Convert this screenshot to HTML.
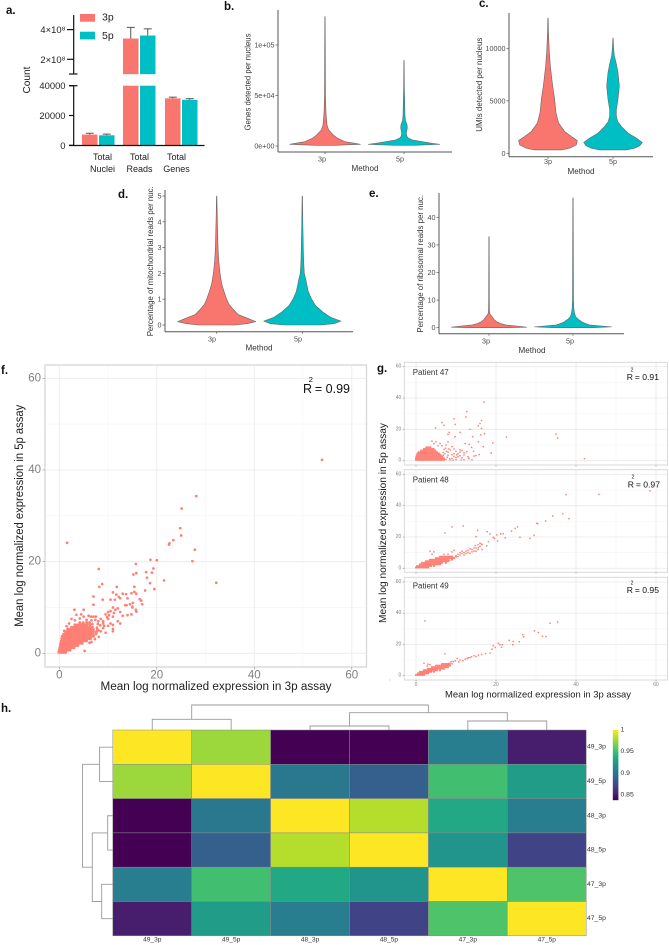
<!DOCTYPE html>
<html lang="en">
<head>
<meta charset="utf-8">
<title>Comparison of 3p and 5p single-nucleus assays</title>
<style>
html,body{margin:0;padding:0;background:#fff;}
svg{display:block;font-family:"Liberation Sans",sans-serif;filter:blur(.35px);}
.plabel{font-weight:bold;font-size:11.5px;fill:#111;dominant-baseline:central;}
</style>
</head>
<body>
<svg id="fig" xmlns="http://www.w3.org/2000/svg" width="669" height="945" viewBox="0 0 669 945">
  <defs>
    <linearGradient id="viridis-grad" x1="0" y1="1" x2="0" y2="0">
      <stop offset="0" stop-color="#440154"/><stop offset=".1" stop-color="#482475"/>
      <stop offset=".2" stop-color="#414487"/><stop offset=".3" stop-color="#355F8D"/>
      <stop offset=".4" stop-color="#2A788E"/><stop offset=".5" stop-color="#21908D"/>
      <stop offset=".6" stop-color="#22A884"/><stop offset=".7" stop-color="#43BF71"/>
      <stop offset=".8" stop-color="#7AD151"/><stop offset=".9" stop-color="#BCDF27"/>
      <stop offset="1" stop-color="#FDE725"/>
    </linearGradient>
  </defs>
  <text class="plabel" x="6" y="11">a.</text>
  <text class="plabel" x="224" y="7">b.</text>
  <text class="plabel" x="479" y="4">c.</text>
  <text class="plabel" x="118" y="195">d.</text>
  <text class="plabel" x="369" y="194">e.</text>
  <text class="plabel" x="1" y="371">f.</text>
  <text class="plabel" x="377" y="369">g.</text>
  <text class="plabel" x="1" y="709">h.</text>
</svg>
<script>
/* ---------- panel a data ---------- */
const barCategories = [["Total","Nuclei"],["Total","Reads"],["Total","Genes"]];
const barValues3p = [7200, 340000000, 31500];
const barValues5p = [6700, 360000000, 30500];
const barErrorTop3p = [8100, 415000000, 32300];
const barErrorTop5p = [7500, 405000000, 31300];
const barLowerTicks = [0, 20000, 40000];
const barUpperTicks = [200000000, 400000000];
const barUpperTickLabels = ["2×10⁸", "4×10⁸"];

/* ---------- violin data ---------- */
const bValues3p = [660,1650,2650,4300,7600,10900,15900,20850,32400,49000,128000];
const bDensity3p = [30,106,90,60,38,25,11,6,3,1.5,.5];
const bValues5p = [660,1650,2650,4300,6000,8000,10000,13000,18000,21000,25000,30000,45000,60000,84700];
const bDensity5p = [30,107,85,55,25,12,8,7,10,9,4.5,3,2,1,.5];
const bTicks = [0,50000,100000];
const bTickLabels = ["0e+00","5e+04","1e+05"];

const cValues3p = [320,480,800,1220,1600,2080,2880,3850,5130,6400,8330,9900,11500,12880];
const cDensity3p = [40,65,85,88,70,50,32,24,20,14,7,3.5,1.5,.5];
const cValues5p = [320,480,705,1025,1440,1920,2560,3040,3525,4170,5130,6410,7690,8650,9300,9935,10960];
const cDensity5p = [40,65,80,88,70,45,25,14,10,10,15,19,15,9,4,2,.5];
const cTicks = [0,5000,10000];
const cTickLabels = ["0","5000","10000"];

const dValues3p = [0,.05,.13,.25,.4,.6,.8,1,1.3,1.6,2,2.5,3,4,5];
const dDensity3p = [55,90,117,95,65,50,37,30,22,15,10,6,4,2,.5];
const dValues5p = [0,.05,.15,.3,.5,.75,1,1.3,1.6,1.8,2,2.5,3,4,5];
const dDensity5p = [55,95,116,85,62,40,28,18,13,10,6,4,3,1.5,.5];
const dTicks = [0,1,2,3,4,5];
const dTickLabels = ["0","1","2","3","4","5"];

const eValues3p = [0,.2,.5,1,1.5,2,3,4,5,6,10,33];
const eDensity3p = [60,113,90,50,35,25,15,9,3,1.5,1,.5];
const eValues5p = [0,.3,.6,1,1.5,2,3,4,5,7,10,47];
const eDensity5p = [60,116,85,50,38,28,16,8,5,2.5,1.5,.5];
const eTicks = [0,10,20,30,40];
const eTickLabels = ["0","10","20","30","40"];

/* ---------- panel f data: [3p, 5p] ---------- */
const fSparse = [[53.9,42.2],[28.1,34.3],[25.1,31.6],[24.8,27.3],[25,25.7],[23.4,24.7],[22.6,24],[22.5,23.7],[27.8,22.6],[27.3,20.1],[32.2,15.4],[1.6,24.1],[18.7,20.4],[20,20.3],[15.7,19.5],[8.1,18.4],[19.3,18.5],[17.8,17.7],[19,17.6],[15.8,17.5],[15.2,17.2],[18,16.5],[21.5,15.9],[18.6,15.3],[8.8,15.1],[8.2,14.5],[11.8,14.5],[15.4,14.5],[19.5,14],[17.6,13.7],
[9,6.5],[9.5,8.5],[10,9],[10.5,9.2],[11,10],[11.5,9.5],[12,9.8],[12.5,9],[13,8.2],[13.5,10.5],[11,8],[10,7.5],[9,7],[8.5,7.5],[8,7],[7.5,8],[7,8],[6.5,8],[6,8.2],[5,8],[4.5,8.5],[3.5,8.4],[3.1,9.5],[2.5,7.5],[2,6.5],[1.8,5.3],[8,5],[8.5,4.8],[9,5.5],[9.5,4.5],[10,6],[10.5,6.5],[11,6.2],[11,4.8],[11,5.3],[12,7],[12.5,6.5],[14,8.3],[15,10],[14.5,10.7],[15.1,11],[14.8,8.5],[15.8,9.1],[15.7,9.5],[12.5,12],[11,13.3],[11.7,12.8],[12.2,12.3],[13,13],[13.7,12.9],[14,12],[15.8,13],[15.4,13.4],[14.8,13.1],[16.5,11.8],[16.8,11.5],[17,10.7],[7,12.4],[7,10.6],[8.9,11.7],[10.5,11.7],[11.4,11.7],[5,9.5],[15,10.2],[13.8,10.5],[5.2,.5],[6.2,2.3],[9.8,7.9],[10.2,8.3],[11.2,8.8],[7.9,6.4],[8.4,6.1],[9.2,6],[7.7,5.6],[7.4,7.3],[6.6,7.2],[3.2,7.2],[4.2,7.6],[5.6,7.3],[6.8,6.4],[7.6,4.4],[8.1,3.6],[7.3,3.1],[6.6,2.5],[1,4.9],[1.5,5.9]];
const fDenseRows = [
[.2,[-.1,.2,.5,.8,1.1,1.3]],
[.7,[0,.4,.8,1.2,1.6,2,2.2]],
[1.2,[.1,.5,.9,1.3,1.7,2.1,2.5,3]],
[1.7,[.2,.6,1,1.4,1.8,2.2,2.6,3,3.4,3.8]],
[2.2,[.3,.7,1.1,1.5,1.9,2.3,2.7,3.1,3.5,3.9,4.3,4.7]],
[2.7,[.4,.8,1.2,1.6,2,2.4,2.8,3.2,3.6,4,4.4,4.8,5.2,5.6]],
[3.2,[.5,.9,1.3,1.7,2.1,2.5,2.9,3.3,3.7,4.1,4.5,4.9,5.3,5.7,6.1,6.4]],
[3.7,[.6,1,1.4,1.8,2.2,2.6,3,3.4,3.8,4.2,4.6,5,5.4,5.8,6.2,6.6,7]],
[4.2,[.9,1.3,1.7,2.1,2.5,2.9,3.3,3.7,4.1,4.5,4.9,5.3,5.7,6.1,6.5,6.9,7.5]],
[4.7,[1.3,1.7,2.1,2.5,2.9,3.3,3.7,4.1,4.5,4.9,5.3,5.7,6.1,6.5,7,7.6]],
[5.2,[1.7,2.1,2.5,2.9,3.3,3.7,4.1,4.5,4.9,5.3,5.7,6.1,6.5,7,7.8]],
[5.7,[2.5,2.9,3.3,3.7,4.1,4.5,4.9,5.3,5.7,6.2,6.8]],
[6.2,[3.2,3.7,4.2,4.7,5.2,5.7,6.3]],
[6.7,[4.2,4.9,5.6,6.2]]];
const fTicks = [0,20,40,60];

/* ---------- panel g data: [3p, 5p] ---------- */
const g47Sparse = [[17,37.4],[12.7,31.3],[12.5,27.9],[16.4,25.7],[9.5,26.8],[6.5,24.3],[7,22.6],[4.9,20.9],[9.8,23.2],[16,23.8],[15.6,22.3],[13.5,20],[16.4,20.6],[8.3,18.1],[8,16.8],[11,18.1],[9.75,15.3],[16.2,16.4],[17.1,17.2],[14.2,15.3],[22.6,15.1],[35,17],[35.4,14.5],[42.1,1.3],[19.2,11.3],[18.8,4.9],[15.8,4],[15.6,12.1],[16.8,8.9],[13.3,10.4],[13.9,8.5],[12.3,11],[12.7,5.7],[13.2,1.5],[12,3.6],[11.5,6.5],[11,7],[10.5,4.5],[10,6],[9.5,7.5],[9,9],[8,12],[7.5,10],[7.4,8],[8,5.5],[8.6,6.8],[9,3.8],[7.8,2.2],[8.4,1.3],[10,2],[11,3.2],[6.5,9.5],[7,7.2],[6,11],[5,12],[4.5,11],[4,12.5],[5.5,9.5],[14.4,6],[15,3.3],
[7.5,.8],[8,3.5],[8.5,.5],[9,1.5],[9.5,4.5],[9.5,2.8],[10,.7],[10.5,2.5],[11,5.5],[11.5,1.8],[12,.6],[12,5],[7.2,4.5],[7.6,6],[8.2,7.5],[9.3,.4],[6.8,3.5],[6.8,5.2],[10.2,3.7],[11.3,.5],[13,2.5],[14,.6],[14.5,3]];
const g47DenseRows = [
[.5,[0,.5,1,1.5,2,2.5,3,3.5,4,4.5,5,5.5,6,6.5,7]],
[1.5,[0,.5,1,1.5,2,2.5,3,3.5,4,4.5,5,5.5,6,6.5,7]],
[2.5,[.1,.6,1.1,1.6,2.1,2.6,3.1,3.6,4.1,4.6,5.1,5.6,6.1,6.6]],
[3.5,[.2,.7,1.2,1.7,2.2,2.7,3.2,3.7,4.2,4.7,5.2,5.7,6.2]],
[4.5,[.4,.9,1.4,1.9,2.4,2.9,3.4,3.9,4.4,4.9,5.4,5.8]],
[5.5,[.7,1.2,1.7,2.2,2.7,3.2,3.7,4.2,4.7,5.2]],
[6.5,[1.3,1.8,2.3,2.8,3.3,3.8,4.3,4.8]],
[7.5,[2,2.5,3,3.5,4,4.4]],
[8.5,[2.6,3.1,3.6]]];
const g48Sparse = [[58.5,49.4],[45.75,47.2],[37.5,47],[36.7,34.7],[38.25,31.7],[34.2,33.4],[32.4,30.2],[30.2,28.7],[30.4,28.5],[25.4,26.4],[24.8,25.5],[23.9,23.8],[29.5,21],[28.5,19.1],[26,19.8],[21.8,22.1],[21.2,21.9],[20.2,21.3],[19.3,19.8],[19.6,19.1],[20.4,17.4],[22.3,19.4],[17.8,23.4],[18.5,22],[15.4,24.3],[11.8,27],[9,26.4],[7.25,22.5],[15,20.2],[17.7,14.3],[18.1,17],[16.4,15.5],
[10,8],[10.5,9],[11,10],[11,8.5],[11.5,9.5],[12,10],[12,8.5],[12.5,11],[13,10],[13,11.5],[13.5,9.5],[14,12],[14,10.5],[14.5,11],[14.5,13],[15,11],[15,13],[15.5,12],[15.5,15],[16,14],[16,16],[16.5,15],[16.5,12],[8,9],[9,10.5],[9.5,11.5],[7,9],[3.5,11],[4,9],[4.5,10.5],[9,6.5],[9.5,7],[10.5,7.5],[11.5,11],[12.5,9.5],[13.5,12.5],[14.8,14.5],[15.6,13.2],[8.4,5]];
const g48DenseRows = [
[.5,[0,.5,1,1.5,2,2.5,3]],
[1.5,[.3,.8,1.3,1.8,2.3,2.8,3.3,3.8,4.5]],
[2.5,[1,1.5,2,2.5,3,3.5,4,4.5,5,5.5,6]],
[3.5,[1.5,2,2.5,3,3.5,4,4.5,5,5.5,6,6.5,7.5]],
[4.5,[2.5,3,3.5,4,4.5,5,5.5,6,6.5,7,7.5,8]],
[5.5,[3.5,4,4.5,5,5.5,6,6.5,7,7.5,8,9]],
[6.5,[5,5.5,6,6.5,7,7.5,8,8.5,9,9.5]],
[7.5,[6,6.5,7,7.5,8,8.5,9,10]]];
const g49Sparse = [[2.25,35.1],[35.4,34.5],[33.5,33.6],[29.6,28.7],[30.6,27.7],[31.6,25.3],[32.5,25.1],[26.7,26.2],[26.9,24.9],[25.8,21.7],[23.3,22.6],[24.3,21.9],[24.2,19.8],[20.6,20.8],[21,19.8],[21.6,19.8],[19.3,19.2],[19.8,18.1],[21.4,18.1],[18.5,14.5],[7.25,14],[16.4,13.6],[15.6,13.2],[13.9,12.1],[13.1,11.5],[12.3,10.6],[11,10],[10.3,11],[9.3,9],[8.5,8],[7.7,7.4],[2,8],[3,7.4],[3.5,7],[14.5,12.8],[15,12.3],[12.8,11],[11.7,9.6],[10.7,8.8],[9.8,9.5],[9,7.6],[8.8,9],[17.4,14.2],[19,17],[2.8,6.2],[13.5,11.6]];
const g49DenseRows = [
[.5,[0,.4,.8,1.2,1.6,2]],
[1.5,[.5,.9,1.3,1.7,2.1,2.5,3]],
[2.5,[1,1.4,1.8,2.2,2.6,3,3.4,3.8,4.5]],
[3.5,[2,2.4,2.8,3.2,3.6,4,4.4,4.8,5.2,6]],
[4.5,[3,3.5,4,4.5,5,5.5,6,6.5,7]],
[5.5,[4,4.5,5,5.5,6,6.5,7,7.5,8]],
[6.5,[5,5.5,6,6.5,7,7.5,8,8.5]],
[7.5,[6.5,7,7.5,8,8.4]]];
const gXTicks = [0,20,40,60];
const gYTicks = [0,20,40,60];

/* ---------- panel h data ---------- */
const heatSamples = ["49_3p","49_5p","48_3p","48_5p","47_3p","47_5p"];
const heatRow4935 = [1,.976,.838,.838,.906,.851];
const heatRow4955 = [.976,1,.903,.887,.951,.927];
const heatRow4835 = [.838,.903,1,.982,.935,.906];
const heatRow4855 = [.838,.887,.982,1,.922,.870];
const heatRow4735 = [.906,.951,.935,.922,1,.955];
const heatRow4755 = [.851,.927,.906,.870,.955,1];
const heatLegendTicks = [1,.95,.9,.85];
const topTreeMerges = [[0,1,0,0,10.7],[2,3,0,0,4],[4,5,0,0,9],[2.5,4.5,4,9,17.3],[.5,3.5,10.7,17.3,25]];
const leftTreeMerges = [[0,1,0,0,13.2],[2,3,0,0,5.1],[4,5,0,0,11.1],[2.5,4.5,5.1,11.1,20.5],[.5,3.5,13.2,20.5,30.3]];

/* ---------- helpers ---------- */
const NS = "http://www.w3.org/2000/svg";
const fig = document.getElementById("fig");
const RED = "#F8766D", TEAL = "#00BFC4";
function linear(d0, d1, r0, r1) { return v => r0 + (v - d0) * (r1 - r0) / (d1 - d0); }
function add(parent, tag, attrs, name) {
  const el = document.createElementNS(NS, tag);
  for (const k in attrs) el.setAttribute(k, attrs[k]);
  
  
  parent.appendChild(el);
  return el;
}
function group(name) { return add(fig, "g", {}, name); }
function line(p, x1, y1, x2, y2, color, w, name) {
  return add(p, "line", {x1, y1, x2, y2, stroke: color, "stroke-width": w}, name);
}
function label(p, s, x, y, size, color, anchor, name, len, rot) {
  const a = {x, y, "font-size": size, fill: color, "text-anchor": anchor, "dominant-baseline": "central"};
  if (len) { a.textLength = len; a.lengthAdjust = "spacingAndGlyphs"; }
  if (rot) a.transform = "rotate(" + rot + " " + x + " " + y + ")";
  const el = add(p, "text", a, name);
  el.textContent = s;
  return el;
}

/* ---------- panel a ---------- */
(function () {
  const g = group("bar-chart-a");
  const yLow = linear(0, 40000, 145.3, 85.7);
  const yUp = linear(200000000, 400000000, 59.3, 29.6);
  const breakBase = 100000000;
  const baseX = [82, 123, 165];
  const bw = 15.5, step = 17;
  function bar(i, val, err, color, dx, key) {
    const x = baseX[i] + dx, cx = x + bw / 2;
    if (val > 40000) {
      add(g, "rect", {x, y: yLow(40000), width: bw, height: yLow(0) - yLow(40000), fill: color}, "bar-lower-" + key);
      add(g, "rect", {x, y: yUp(val), width: bw, height: yUp(breakBase) - yUp(val), fill: color}, "bar-upper-" + key);
      line(g, cx, yUp(val), cx, yUp(err), "#555", 1, "error-bar-" + key);
      line(g, cx - 4, yUp(err), cx + 4, yUp(err), "#555", 1, "error-cap-" + key);
    } else {
      add(g, "rect", {x, y: yLow(val), width: bw, height: yLow(0) - yLow(val), fill: color}, "bar-" + key);
      line(g, cx, yLow(val), cx, yLow(err), "#555", 1, "error-bar-" + key);
      line(g, cx - 4, yLow(err), cx + 4, yLow(err), "#555", 1, "error-cap-" + key);
    }
  }
  barCategories.forEach((c, i) => {
    bar(i, barValues3p[i], barErrorTop3p[i], RED, 0, "3p-" + i);
    bar(i, barValues5p[i], barErrorTop5p[i], TEAL, step, "5p-" + i);
    const cx = baseX[i] + bw + 1 + [4, 0, -5][i] * 1;
    label(g, c[0], cx, 157, 9, "#222", "middle", "category-label-top");
    label(g, c[1], cx, 169, 9, "#222", "middle", "category-label-bottom");
  });
  line(g, 73.7, 15, 73.7, 74, "#111", 1.2, "y-axis-upper");
  line(g, 73.7, 85.7, 73.7, 145.3, "#111", 1.2, "y-axis-lower");
  line(g, 69, 74, 77.5, 74, "#111", 1.2, "axis-break-upper");
  line(g, 69, 85.7, 77.5, 85.7, "#111", 1.2, "axis-break-lower");
  line(g, 69, 145.5, 204.5, 145.5, "#111", 1.2, "x-axis");
  barLowerTicks.forEach(t => {
    line(g, 69, yLow(t), 73.7, yLow(t), "#111", 1.2, "y-tick");
    label(g, String(t), 65.5, yLow(t), 9.4, "#222", "end", "y-tick-label");
  });
  barUpperTicks.forEach((t, i) => {
    line(g, 67, yUp(t), 73.7, yUp(t), "#111", 1.2, "y-tick");
    label(g, barUpperTickLabels[i], 65.5, yUp(t), 9.4, "#222", "end", "y-tick-label");
  });
  label(g, "Count", 27, 80, 10.5, "#222", "middle", "y-axis-title", 27, -90);
  add(g, "rect", {x: 80, y: 14, width: 15, height: 7.7, fill: RED}, "legend-swatch-3p");
  add(g, "rect", {x: 80, y: 31.7, width: 15, height: 7.7, fill: TEAL}, "legend-swatch-5p");
  label(g, "3p", 102, 17.7, 10.5, "#222", "start", "legend-label-3p");
  label(g, "5p", 102, 36, 10.5, "#222", "start", "legend-label-5p");
})();

/* ---------- violin panels ---------- */
function violinPanel(name, o) {
  const g = group(name);
  const y = linear(o.d0, o.d1, o.r0, o.r1);
  function violin(vals, dens, cx, color, key) {
    const right = vals.map((v, i) => (cx + dens[i] / 3) + "," + y(v));
    const left = vals.map((v, i) => (cx - dens[i] / 3) + "," + y(v)).reverse();
    add(g, "polygon", {points: right.concat(left).join(" "), fill: color, stroke: "#666", "stroke-width": .6, "stroke-linejoin": "round"}, "violin-" + key);
  }
  violin(o.v3, o.w3, o.c3, RED, "3p");
  violin(o.v5, o.w5, o.c5, TEAL, "5p");
  line(g, o.ax, o.top, o.ax, o.bottom, "#555", 1, "y-axis");
  line(g, o.ax, o.bottom, o.right, o.bottom, "#555", 1, "x-axis");
  o.ticks.forEach((t, i) => {
    line(g, o.ax - 2.5, y(t), o.ax, y(t), "#555", .7, "y-tick");
    label(g, o.tickLabels[i], o.ax - 3.5, y(t), 7.2, "#4d4d4d", "end", "y-tick-label");
  });
  line(g, o.c3, o.bottom, o.c3, o.bottom + 2, "#555", .7, "x-tick");
  line(g, o.c5, o.bottom, o.c5, o.bottom + 2, "#555", .7, "x-tick");
  label(g, "3p", o.l3, o.labelY, 7.2, "#4d4d4d", "middle", "x-tick-label-3p");
  label(g, "5p", o.l5, o.labelY, 7.2, "#4d4d4d", "middle", "x-tick-label-5p");
  label(g, "Method", o.mx, o.my, 8.3, "#333", "middle", "x-axis-title", 27);
  label(g, o.title, o.tx, o.ty, 8, "#333", "middle", "y-axis-title", o.tlen, -90);
}
violinPanel("violin-chart-b", {d0: 0, d1: 100000, r0: 146, r1: 45, ax: 278, top: 10, bottom: 152, right: 452, c3: 325, c5: 404, l3: 322, l5: 400, labelY: 159, mx: 365, my: 168, tx: 248, ty: 82, tlen: 97, title: "Genes detected per nucleus", v3: bValues3p, w3: bDensity3p, v5: bValues5p, w5: bDensity5p, ticks: bTicks, tickLabels: bTickLabels});
violinPanel("violin-chart-c", {d0: 0, d1: 10000, r0: 153.3, r1: 48.3, ax: 509, top: 13, bottom: 156.7, right: 653, c3: 548, c5: 613, l3: 548, l5: 613, labelY: 161.7, mx: 581, my: 171, tx: 479.3, ty: 84.7, tlen: 94, title: "UMIs detected per nucleus", v3: cValues3p, w3: cDensity3p, v5: cValues5p, w5: cDensity5p, ticks: cTicks, tickLabels: cTickLabels});
violinPanel("violin-chart-d", {d0: 0, d1: 5, r0: 325, r1: 196, ax: 165, top: 190, bottom: 331.7, right: 353, c3: 216.7, c5: 302.3, l3: 212, l5: 298, labelY: 339, mx: 259, my: 347.7, tx: 150.7, ty: 261.3, tlen: 150, title: "Percentage of mitochondrial reads per nuc.", v3: dValues3p, w3: dDensity3p, v5: dValues5p, w5: dDensity5p, ticks: dTicks, tickLabels: dTickLabels});
violinPanel("violin-chart-e", {d0: 0, d1: 40, r0: 327.7, r1: 217.3, ax: 439, top: 193, bottom: 333.7, right: 624, c3: 489, c5: 573, l3: 486, l5: 570, labelY: 341, mx: 532, my: 350, tx: 420.7, ty: 263.8, tlen: 137.7, title: "Percentage of ribosomal reads per nuc.", v3: eValues3p, w3: eDensity3p, v5: eValues5p, w5: eDensity5p, ticks: eTicks, tickLabels: eTickLabels});

/* ---------- scatter panels ---------- */
function scatterPanel(name, o) {
  const g = group(name);
  const xs = linear(0, 60, o.x0, o.x60), ys = linear(0, 60, o.y0, o.y60);
  add(g, "rect", {x: o.l, y: o.t, width: o.r - o.l, height: o.b - o.t, fill: "#fff"}, "plot-background");
  o.minor.forEach(v => {
    line(g, xs(v), o.t, xs(v), o.b, "#f6f6f6", .7, "grid-minor-x");
    line(g, o.l, ys(v), o.r, ys(v), "#f6f6f6", .7, "grid-minor-y");
  });
  o.xticks.forEach(v => line(g, xs(v), o.t, xs(v), o.b, "#ececec", .9, "grid-major-x"));
  o.yticks.forEach(v => line(g, o.l, ys(v), o.r, ys(v), "#ececec", .9, "grid-major-y"));
  o.rows.forEach(row => row[1].forEach(px => {
    add(g, "circle", {cx: xs(px), cy: ys(row[0]), r: o.dr, fill: "#FF7F75"}, "gene-point-dense");
  }));
  o.sparse.forEach(p => {
    add(g, "circle", {cx: xs(p[0]), cy: ys(p[1]), r: o.pr, fill: "#FF7F75"}, "gene-point");
  });
  add(g, "rect", {x: o.l, y: o.t, width: o.r - o.l, height: o.b - o.t, fill: "none", stroke: "#d9d9d9", "stroke-width": o.fw}, "plot-frame");
  o.yticks.forEach(v => {
    line(g, o.l - o.ts, ys(v), o.l, ys(v), "#888", .6, "y-tick");
    label(g, String(v), o.l - o.ts - 1.5, ys(v), o.yfs, "#808080", "end", "y-tick-label");
  });
  o.xticks.forEach(v => {
    line(g, xs(v), o.b, xs(v), o.b + o.ts, "#888", .6, "x-tick");
    if (o.showX) label(g, String(v), xs(v), o.xly, o.yfs, "#808080", "middle", "x-tick-label");
  });
  if (o.patient) label(g, o.patient, o.l + 8.4, o.py, 8, "#333", "start", "patient-label");
  label(g, "R", o.rx, o.ry, o.rfs, "#111", "start", "r-squared-r");
  label(g, "2", o.rx + o.rfs * .62, o.ry - o.rfs * .78, o.rfs * .62, "#111", "middle", "r-squared-exponent");
  label(g, "= " + o.rv, o.rx + o.rfs * .95, o.ry, o.rfs, "#111", "start", "r-squared-value");
}
scatterPanel("scatter-all-f", {l: 45, t: 365, r: 366.5, b: 667, x0: 59.3, x60: 351.8, y0: 653.3, y60: 378.3, xticks: fTicks, yticks: fTicks, minor: [10,30,50], rows: fDenseRows, sparse: fSparse, pr: 1.35, dr: 1.45, fw: 1.4, ts: 2.5, yfs: 11.5, showX: true, xly: 675.5, rx: 303, ry: 389, rfs: 12.5, rv: "0.99"});
scatterPanel("scatter-patient-47", {l: 404.3, t: 362.3, r: 667.5, b: 465, x0: 416, x60: 656, y0: 460.7, y60: 366.7, xticks: gXTicks, yticks: gYTicks, minor: [10,30,50], rows: g47DenseRows, sparse: g47Sparse, pr: .85, dr: 1.1, fw: 1, ts: 1.5, yfs: 5, showX: false, patient: "Patient 47", py: 372.7, rx: 626.7, ry: 377, rfs: 8.6, rv: "0.91"});
scatterPanel("scatter-patient-48", {l: 404.3, t: 469.7, r: 667.5, b: 572.3, x0: 416, x60: 656, y0: 568.3, y60: 474.3, xticks: gXTicks, yticks: gYTicks, minor: [10,30,50], rows: g48DenseRows, sparse: g48Sparse, pr: .85, dr: 1.1, fw: 1, ts: 1.5, yfs: 5, showX: false, patient: "Patient 48", py: 480, rx: 627.7, ry: 484.3, rfs: 8.6, rv: "0.97"});
scatterPanel("scatter-patient-49", {l: 404.3, t: 577.3, r: 667.5, b: 680, x0: 416, x60: 656, y0: 675.7, y60: 582, xticks: gXTicks, yticks: gYTicks, minor: [10,30,50], rows: g49DenseRows, sparse: g49Sparse, pr: .85, dr: 1.1, fw: 1, ts: 1.5, yfs: 5, showX: true, xly: 685, patient: "Patient 49", py: 586, rx: 626.7, ry: 590, rfs: 8.6, rv: "0.95"});
(function () {
  const g = group("scatter-axis-titles");
  label(g, "Mean log normalized expression in 5p assay", 20, 515.7, 11.5, "#222", "middle", "f-y-axis-title", 222, -90);
  label(g, "Mean log normalized expression in 3p assay", 216, 687, 11.5, "#222", "middle", "f-x-axis-title", 231);
  label(g, "Mean log normalized expression in 5p assay", 383, 523, 10.5, "#222", "middle", "g-y-axis-title", 200, -90);
  label(g, "Mean log normalized expression in 3p assay", 538, 695, 9.5, "#222", "middle", "g-x-axis-title", 186);
  add(g, "circle", {cx: 390, cy: 680, r: .5, fill: "#999"}, "stray-dot");
})();

/* ---------- panel h ---------- */
(function () {
  const g = group("heatmap-h");
  const heatRows = [heatRow4935, heatRow4955, heatRow4835, heatRow4855, heatRow4735, heatRow4755];
  const stops = ["#440154","#482475","#414487","#355F8D","#2A788E","#21908D","#22A884","#43BF71","#7AD151","#BCDF27","#FDE725"];
  const L = 112.8, T = 730, cw = 78.9, ch = 34.3, R = L + 6 * cw, B = T + 6 * ch;
  const toT = linear(.838, 1, 0, 1);
  const colX = i => L + cw * (i + .5), rowY = i => T + ch * (i + .5);
  function hex(c) { return [1, 3, 5].map(k => parseInt(c.substr(k, 2), 16)); }
  function viridis(v) {
    const t = Math.min(1, Math.max(0, toT(v))) * 10, i = Math.min(9, Math.floor(t)), f = t - i;
    const a = hex(stops[i]), b = hex(stops[i + 1]);
    return "rgb(" + a.map((c, k) => Math.round(c + (b[k] - c) * f)).join(",") + ")";
  }
  heatRows.forEach((row, r) => row.forEach((v, c) => {
    add(g, "rect", {x: L + c * cw, y: T + r * ch, width: cw, height: ch, fill: viridis(v), stroke: "#8a8a8a", "stroke-width": .5}, "heatmap-cell");
  }));
  heatSamples.forEach((s, i) => {
    label(g, s, colX(i), 940, 6.6, "#333", "middle", "column-label");
    label(g, s, 587, rowY(i), 6.8, "#333", "start", "row-label");
  });
  topTreeMerges.forEach(m => {
    const pts = [[colX(m[0]), T - m[2]], [colX(m[0]), T - m[4]], [colX(m[1]), T - m[4]], [colX(m[1]), T - m[3]]];
    add(g, "polyline", {points: pts.join(" "), fill: "none", stroke: "#9a9a9a", "stroke-width": .9}, "column-dendrogram-branch");
  });
  leftTreeMerges.forEach(m => {
    const pts = [[L - m[2], rowY(m[0])], [L - m[4], rowY(m[0])], [L - m[4], rowY(m[1])], [L - m[3], rowY(m[1])]];
    add(g, "polyline", {points: pts.join(" "), fill: "none", stroke: "#9a9a9a", "stroke-width": .9}, "row-dendrogram-branch");
  });
  const legY = linear(1, .85, 730, 795);
  add(g, "rect", {x: 612.8, y: legY(1), width: 5.6, height: legY(.838) - legY(1), fill: "url(#viridis-grad)"}, "color-legend-bar");
  heatLegendTicks.forEach(t => {
    label(g, String(t), 620.5, legY(t), 6.8, "#333", "start", "color-legend-label");
  });
})();
</script>
</body>
</html>
